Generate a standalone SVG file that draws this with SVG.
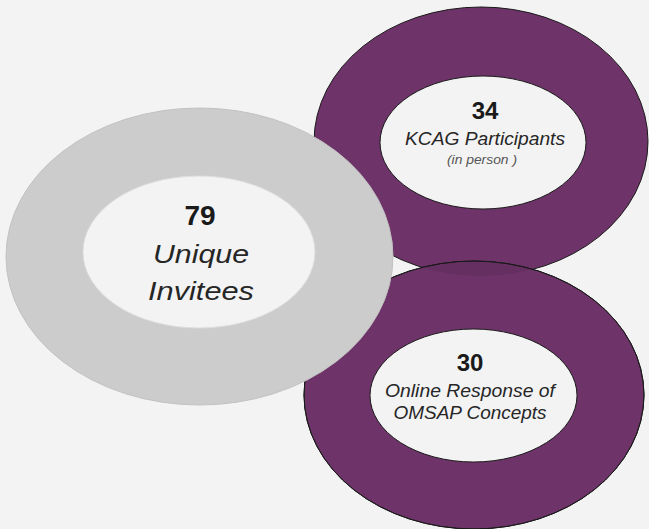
<svg xmlns="http://www.w3.org/2000/svg" width="649" height="529" viewBox="0 0 649 529">
  <style>
    .bg { fill: #f3f3f3; }
    .ring-purple { fill: #6e3469; stroke: #1a1a1a; stroke-width: 1; }
    .hole-purple { fill: #f3f3f3; stroke: #1a1a1a; stroke-width: 1; }
    .ring-gray { fill: #cccccc; stroke: #c2c2c2; stroke-width: 1; }
    .hole-gray { fill: #f3f3f3; stroke: #dedede; stroke-width: 1; }
    .num { font-family: "Liberation Sans", Arial, sans-serif; font-weight: bold; fill: #1a1a1a; text-anchor: middle; }
    .lbl { font-family: "Liberation Sans", Arial, sans-serif; font-style: italic; fill: #262626; text-anchor: middle; }
    .sub { font-family: "Liberation Sans", Arial, sans-serif; font-style: italic; fill: #555555; text-anchor: middle; }
  </style>
  <defs>
    <clipPath id="lower-outer">
      <ellipse cx="474" cy="395" rx="170" ry="134"/>
    </clipPath>
  </defs>
  <rect class="bg" x="0" y="0" width="649" height="529"/>

  <!-- KCAG participants ring (top right) -->
  <g id="kcag">
    <ellipse class="ring-purple" cx="481" cy="141.5" rx="167" ry="134.5"/>
    <ellipse class="hole-purple" cx="483" cy="142.5" rx="103" ry="66.5"/>
    <text class="num" x="485" y="119" font-size="24">34</text>
    <text class="lbl" x="485" y="145" font-size="18" textLength="160" lengthAdjust="spacingAndGlyphs">KCAG Participants</text>
    <text class="sub" x="482" y="164" font-size="12.5" textLength="70" lengthAdjust="spacingAndGlyphs">(in person )</text>
  </g>

  <!-- Online response ring (bottom right) -->
  <g id="online">
    <ellipse class="ring-purple" cx="474" cy="395" rx="170" ry="134"/>
    <!-- lens where the two purple rings overlap: slightly darker -->
    <ellipse cx="481" cy="141.5" rx="167" ry="134.5" clip-path="url(#lower-outer)" fill="#3a1436" fill-opacity="0.14"/>
    <ellipse cx="474" cy="395" rx="170" ry="134" fill="none" stroke="#1a1a1a" stroke-width="1"/>
    <ellipse class="hole-purple" cx="473.5" cy="395.5" rx="103.5" ry="66.5"/>
    <text class="num" x="470" y="371" font-size="24">30</text>
    <text class="lbl" x="470" y="397" font-size="18" textLength="170" lengthAdjust="spacingAndGlyphs">Online Response of</text>
    <text class="lbl" x="470" y="419" font-size="18" textLength="153" lengthAdjust="spacingAndGlyphs">OMSAP Concepts</text>
  </g>

  <!-- Unique invitees ring (left) -->
  <g id="invitees">
    <ellipse class="ring-gray" cx="199.5" cy="256.5" rx="193.5" ry="148.5"/>
    <ellipse class="hole-gray" cx="199" cy="252" rx="116" ry="76"/>
    <text class="num" x="200" y="225" font-size="28">79</text>
    <text class="lbl" x="201" y="263" font-size="26" textLength="96" lengthAdjust="spacingAndGlyphs">Unique</text>
    <text class="lbl" x="201" y="300" font-size="26" textLength="106" lengthAdjust="spacingAndGlyphs">Invitees</text>
  </g>

  <g id="connectors"/>
</svg>
